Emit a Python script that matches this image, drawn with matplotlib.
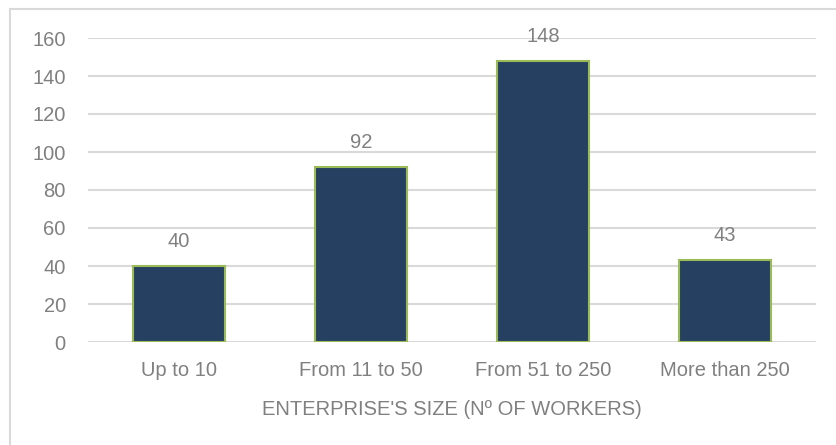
import matplotlib
matplotlib.use("Agg")
from matplotlib import pyplot as plt
from matplotlib.lines import Line2D

# Chart data
categories = ["Up to 10", "From 11 to 50", "From 51 to 250", "More than 250"]
counts = [40, 92, 148, 43]
y_ticks = [0, 20, 40, 60, 80, 100, 120, 140, 160]

plt.rcParams["font.family"] = ["Liberation Sans", "DejaVu Sans"]
text_color = "#808080"
fs = 14.5

W, H = 836, 445
fig = plt.figure(figsize=(W / 100, H / 100), dpi=100)

# Outer chart border: only the top and left edges are inside the image
fig.lines.append(Line2D([10 / W, 1.0], [1 - 9 / H, 1 - 9 / H], transform=fig.transFigure,
                        color="#d9d9d9", linewidth=1.5))
fig.lines.append(Line2D([10 / W, 10 / W], [0.0, 1 - 9 / H], transform=fig.transFigure,
                        color="#d9d9d9", linewidth=1.5))

ax = fig.add_axes([88 / W, 1 - 342 / H, (816 - 88) / W, (342 - 38) / H])

x = range(len(categories))
bars = ax.bar(x, counts, width=0.505, color="#264061", edgecolor="#9bbb59",
              linewidth=1.5, zorder=3)

for b, v in zip(bars, counts):
    ax.annotate(str(v), (b.get_x() + b.get_width() / 2, v), xytext=(0, 11),
                textcoords="offset points", ha="center", va="bottom",
                fontsize=fs, color=text_color)

ax.set_xlim(-0.5, len(categories) - 0.5)
ax.set_ylim(0, 160)
ax.set_yticks(y_ticks)
ax.set_xticks(list(x))
ax.set_xticklabels(categories)
ax.yaxis.grid(True, color="#d9d9d9", linewidth=1.5, zorder=0)
ax.set_axisbelow(True)

for s in ax.spines.values():
    s.set_visible(False)
ax.tick_params(axis="both", length=0, labelsize=fs, labelcolor=text_color)
ax.tick_params(axis="y", pad=16)
ax.tick_params(axis="x", pad=14)

ax.set_xlabel("ENTERPRISE'S SIZE (Nº OF WORKERS)", fontsize=fs, color=text_color,
              labelpad=14)

fig.savefig("out.png", dpi=100)
